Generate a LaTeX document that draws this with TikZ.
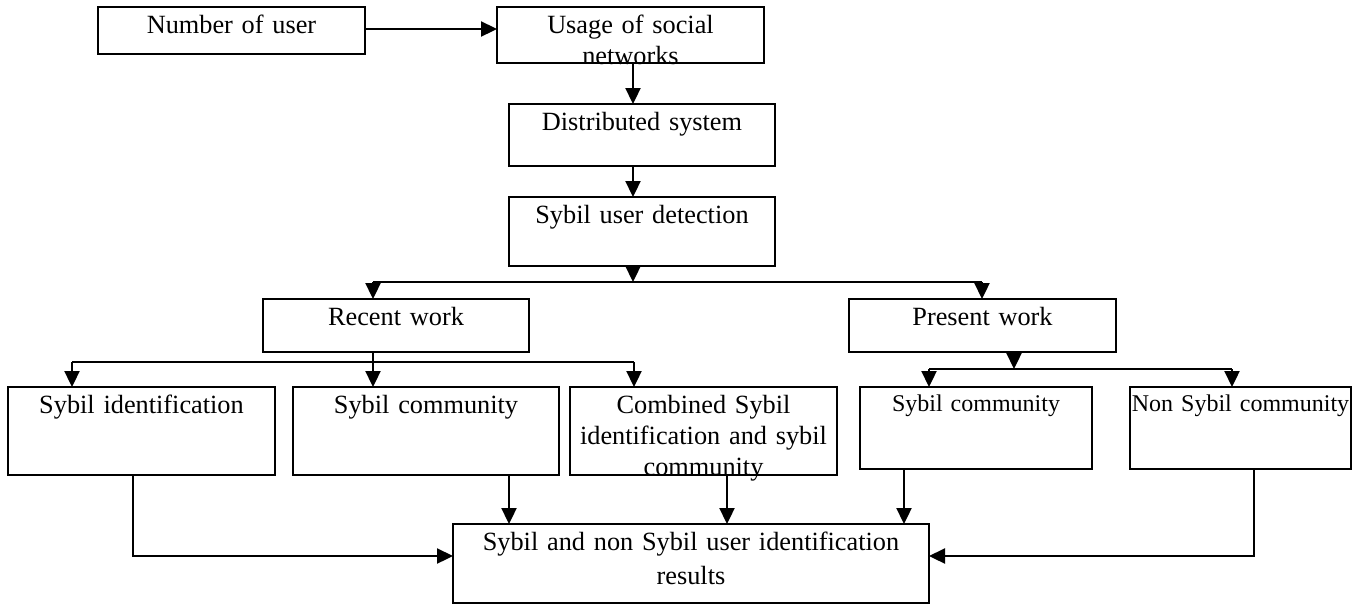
\documentclass[tikz,border=0pt]{standalone}
\usepackage{fontspec}
\setmainfont{Liberation Serif}
\usetikzlibrary{arrows.meta}
\newcommand\fsA{\fontsize{26.3}{31}\selectfont}
\newcommand\fsB{\fontsize{24}{29}\selectfont}
\tikzset{
  box/.style={draw, line width=1.7pt, inner sep=0pt, outer sep=0pt, anchor=north west, align=center, font=\fsA, text height=26pt},
  smallbox/.style={box, font=\fsB, text height=24pt},
  conn/.style={line width=2.3pt},
  arr/.style={conn, -{Triangle[length=16pt,width=15pt]}}
}
\begin{document}
\begin{tikzpicture}[x=1pt,y=-1pt]
\useasboundingbox (0,0) rectangle (1354,606);
% boxes (left,top), width, depth = height - text height
\node[box, text width=267pt, text depth=21pt] (num) at (98,7) {Number of user};
\node[box, text width=267pt, text depth=30pt] (use) at (497,7) {Usage of social\\networks};
\node[box, text width=266pt, text depth=36pt] (dist) at (509,104) {Distributed system};
\node[box, text width=266pt, text depth=43pt] (sud) at (509,197) {Sybil user detection};
\node[box, text width=266pt, text depth=27pt] (rec) at (263,299) {Recent work};
\node[box, text width=267pt, text depth=27pt] (pre) at (849,299) {Present work};
\node[box, text width=267pt, text depth=62pt] (si) at (8,387) {Sybil identification};
\node[box, text width=266pt, text depth=62pt] (sc1) at (293,387) {Sybil community};
\node[box, text width=267pt, text depth=62pt] (comb) at (570,387) {Combined Sybil\\identification and sybil\\community};
\node[smallbox, text width=232pt, text depth=58pt] (sc2) at (860,387) {Sybil community};
\node[smallbox, text width=221pt, text depth=58pt] (nsc) at (1130,387) {Non Sybil community};
\node[box, text width=476pt, text depth=53pt] (res) at (453,524) {Sybil and non Sybil user identification\\[3pt]results};
% helper coordinates
\coordinate (xA) at (633,0);
\coordinate (xR) at (373,0);
\coordinate (xP) at (982,0);
\coordinate (xPo) at (1014,0);
\coordinate (x1) at (72,0);
\coordinate (x3) at (634,0);
\coordinate (x4) at (929,0);
\coordinate (x5) at (1232,0);
\coordinate (xs) at (133,0);
\coordinate (xq) at (509,0);
\coordinate (xc) at (727,0);
\coordinate (xt) at (904,0);
\coordinate (xn) at (1254,0);
\coordinate (ya) at (0,29);
\coordinate (yb1) at (0,282);
\coordinate (yb2) at (0,362);
\coordinate (yb3) at (0,369);
\coordinate (yb4) at (0,556);
% connectors
\draw[arr] (num.east |- ya) -- (use.west |- ya);
\draw[arr] (use.south -| xA) -- (dist.north -| xA);
\draw[arr] (dist.south -| xA) -- (sud.north -| xA);
\draw[arr] (sud.south -| xA) -- (yb1 -| xA);
\draw[conn] (yb1 -| xR) -- (yb1 -| xP);
\draw[arr] (yb1 -| xR) -- (rec.north -| xR);
\draw[arr] (yb1 -| xP) -- (pre.north -| xP);
\draw[conn] (yb2 -| x1) -- (yb2 -| x3);
\draw[arr] (rec.south -| xR) -- (sc1.north -| xR);
\draw[arr] (yb2 -| x1) -- (si.north -| x1);
\draw[arr] (yb2 -| x3) -- (comb.north -| x3);
\draw[arr] (pre.south -| xPo) -- (yb3 -| xPo);
\draw[conn] (yb3 -| x4) -- (yb3 -| x5);
\draw[arr] (yb3 -| x4) -- (sc2.north -| x4);
\draw[arr] (yb3 -| x5) -- (nsc.north -| x5);
\draw[arr] (si.south -| xs) |- (res.west |- yb4);
\draw[arr] (sc1.south -| xq) -- (res.north -| xq);
\draw[arr] (comb.south -| xc) -- (res.north -| xc);
\draw[arr] (sc2.south -| xt) -- (res.north -| xt);
\draw[arr] (nsc.south -| xn) |- (res.east |- yb4);
\end{tikzpicture}
\end{document}
